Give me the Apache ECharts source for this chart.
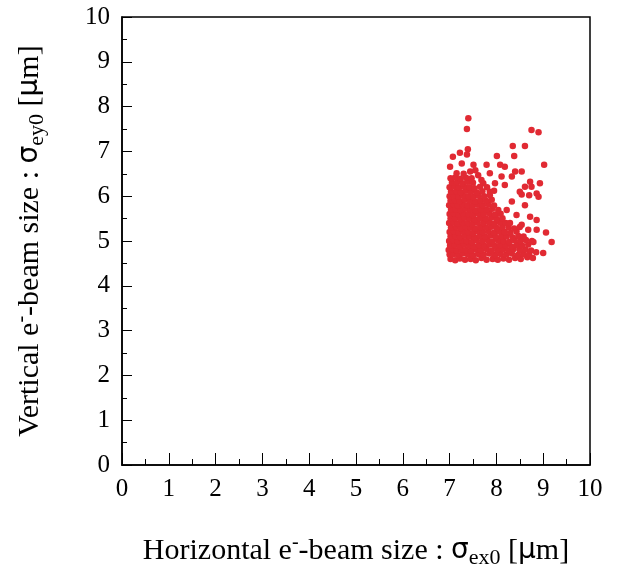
<!DOCTYPE html>
<html>
<head>
<meta charset="utf-8">
<script src="https://cdn.jsdelivr.net/npm/echarts@6/dist/echarts.min.js"></script>
<style>
  html, body { margin: 0; padding: 0; background: #fff; }
  #chart { width: 623px; height: 571px; }
</style>
</head>
<body>
<div id="chart"></div>
<script>
// axis ticks (both axes 0..10, labels every 1, minor at 0.5)
var xTicks = [0, 1, 2, 3, 4, 5, 6, 7, 8, 9, 10];
var yTicks = [0, 1, 2, 3, 4, 5, 6, 7, 8, 9, 10];

// dense part of the cloud, [sigma_ex0, sigma_ey0] in um
var denseCore = [
  [7.02,4.60],[7.12,4.57],[7.22,4.61],[7.33,4.58],[7.45,4.60],[7.56,4.57],[7.68,4.62],[7.79,4.58],[7.92,4.60],[8.03,4.58],[8.15,4.61],[8.27,4.58],[8.40,4.62],[8.52,4.60],[8.66,4.64],
  [7.00,4.70],[7.08,4.71],[7.18,4.69],[7.28,4.72],[7.39,4.70],[7.50,4.68],[7.61,4.71],[7.73,4.70],[7.85,4.72],[7.97,4.69],[8.09,4.71],[8.21,4.70],[8.33,4.72],[8.46,4.69],[8.58,4.71],[8.70,4.70],
  [6.98,4.80],[7.06,4.82],[7.15,4.79],[7.25,4.81],[7.35,4.80],[7.46,4.78],[7.57,4.81],[7.67,4.80],[7.79,4.82],[7.90,4.79],[8.02,4.80],[8.14,4.81],[8.26,4.79],[8.37,4.82],[8.50,4.80],[8.62,4.81],[8.74,4.79],
  [7.01,4.90],[7.11,4.91],[7.21,4.89],[7.31,4.92],[7.42,4.90],[7.52,4.88],[7.63,4.91],[7.74,4.90],[7.86,4.92],[7.97,4.89],[8.08,4.91],[8.20,4.90],[8.32,4.88],[8.44,4.91],[8.55,4.90],[8.68,4.92],
  [6.99,5.00],[7.07,5.02],[7.17,4.99],[7.27,5.01],[7.37,5.00],[7.48,4.98],[7.58,5.01],[7.70,5.00],[7.81,5.02],[7.92,4.99],[8.04,5.01],[8.15,5.00],[8.27,4.98],[8.39,5.01],[8.51,5.00],[8.63,5.02],[8.76,5.00],
  [7.02,5.10],[7.12,5.11],[7.22,5.09],[7.33,5.12],[7.43,5.10],[7.54,5.08],[7.65,5.11],[7.76,5.10],[7.88,5.12],[7.99,5.09],[8.11,5.11],[8.22,5.10],[8.35,5.08],[8.47,5.11],[8.58,5.10],
  [7.00,5.20],[7.09,5.22],[7.19,5.19],[7.29,5.21],[7.39,5.20],[7.50,5.18],[7.60,5.21],[7.71,5.20],[7.83,5.22],[7.95,5.19],[8.06,5.21],[8.18,5.20],[8.30,5.18],[8.43,5.21],
  [7.03,5.30],[7.14,5.31],[7.24,5.29],[7.34,5.32],[7.45,5.30],[7.55,5.28],[7.66,5.31],[7.78,5.30],[7.89,5.32],[8.01,5.29],[8.13,5.31],[8.26,5.30],[8.38,5.28],[8.50,5.31],
  [6.99,5.40],[7.08,5.42],[7.18,5.39],[7.28,5.41],[7.39,5.40],[7.49,5.38],[7.60,5.41],[7.72,5.40],[7.84,5.42],[7.96,5.39],[8.08,5.41],[8.20,5.40],
  [7.02,5.50],[7.12,5.51],[7.23,5.49],[7.33,5.52],[7.43,5.50],[7.54,5.48],[7.65,5.51],[7.77,5.50],[7.89,5.52],[8.01,5.49],[8.13,5.51],
  [7.00,5.60],[7.09,5.62],[7.19,5.59],[7.29,5.61],[7.40,5.60],[7.50,5.58],[7.61,5.61],[7.73,5.60],[7.85,5.62],[7.97,5.59],[8.09,5.61],
  [7.03,5.70],[7.13,5.71],[7.23,5.69],[7.34,5.72],[7.45,5.70],[7.56,5.68],[7.67,5.71],[7.79,5.70],[7.91,5.72],[8.04,5.69],
  [6.99,5.80],[7.08,5.82],[7.18,5.79],[7.28,5.81],[7.38,5.80],[7.49,5.78],[7.60,5.81],[7.71,5.80],[7.83,5.82],[7.95,5.79],
  [7.02,5.90],[7.12,5.91],[7.22,5.89],[7.33,5.92],[7.44,5.90],[7.55,5.88],[7.66,5.91],[7.78,5.90],[7.90,5.92],
  [7.00,6.00],[7.09,6.02],[7.19,5.99],[7.29,6.01],[7.40,6.00],[7.51,5.98],[7.62,6.01],[7.74,6.00],[7.86,6.02],
  [7.03,6.10],[7.14,6.11],[7.24,6.09],[7.35,6.12],[7.46,6.10],[7.58,6.08],[7.70,6.11],
  [7.00,6.20],[7.10,6.22],[7.20,6.19],[7.31,6.21],[7.42,6.20],[7.53,6.18],[7.65,6.21],
  [7.05,6.30],[7.16,6.31],[7.27,6.29],[7.38,6.32],[7.50,6.30],
  [7.02,6.40],[7.12,6.42],[7.23,6.39],[7.35,6.41],[7.47,6.40]
];

// scattered points around the edges of the cloud
var outerPoints = [
  [7.40,7.74],[7.37,7.50],[8.75,7.48],[8.90,7.43],[7.39,7.05],[8.35,7.12],[8.61,7.12],
  [7.22,6.97],[7.37,6.93],[8.01,6.90],[8.38,6.90],[7.07,6.88],[9.02,6.70],[7.01,6.66],
  [7.26,6.73],[7.51,6.70],[7.79,6.70],[8.08,6.70],[8.18,6.66],[8.40,6.55],[8.54,6.55],
  [7.15,6.51],[7.44,6.55],[7.61,6.47],[7.86,6.51],[8.11,6.44],[8.33,6.44],[7.72,6.29],
  [7.97,6.29],[8.18,6.25],[8.72,6.32],[8.93,6.29],[8.61,6.21],[8.75,6.21],[7.86,6.10],
  [8.50,6.10],[8.86,6.06],[8.54,6.04],[8.70,6.02],[8.90,5.99],[8.61,5.80],[8.33,5.88],
  [8.22,5.69],[8.43,5.58],[8.72,5.54],[8.86,5.47],[8.29,5.40],[8.54,5.36],[8.68,5.25],
  [8.86,5.25],[9.06,5.19],[9.18,4.98],[9.00,4.73],[8.79,4.98],[8.85,4.75],[8.78,4.62],
  [7.30,6.50],[7.55,6.58],[7.68,6.36],[7.80,6.20],[7.95,6.12]
];

var serif = '"Liberation Serif", "Times New Roman", serif';
var nameRich = {
  t: { fontFamily: serif, fontSize: 30, color: '#000', lineHeight: 36 },
  sym: { fontFamily: '"DejaVu Sans", sans-serif', fontSize: 28, color: '#000', lineHeight: 36 },
  sup: { fontFamily: serif, fontSize: 20, color: '#000', lineHeight: 20, verticalAlign: 'top' },
  sub: { fontFamily: serif, fontSize: 22, color: '#000', lineHeight: 20, verticalAlign: 'bottom' }
};

var chart = echarts.init(document.getElementById('chart'));
chart.setOption({
  animation: false,
  backgroundColor: '#fff',
  grid: {
    left: 122, right: 33, top: 17, bottom: 106,
    outerBoundsMode: 'none',
    show: true, borderColor: '#000', borderWidth: 1.5, backgroundColor: 'transparent'
  },
  xAxis: {
    type: 'value',
    min: xTicks[0], max: xTicks[xTicks.length - 1], interval: 1,
    name: '{t|Horizontal e}{sup|-}{t|-beam size : }{sym|σ}{sub|ex0}{t| [}{sym|μ}{t|m]}',
    nameLocation: 'middle',
    nameGap: 68,
    nameTextStyle: { rich: nameRich },
    axisLine: { lineStyle: { color: '#000', width: 1.5 } },
    axisTick: { inside: true, length: 12, lineStyle: { color: '#000', width: 1 } },
    minorTick: { show: true, splitNumber: 2, length: 6, lineStyle: { color: '#000', width: 1 } },
    axisLabel: { fontFamily: serif, fontSize: 25, color: '#000', margin: 12 },
    splitLine: { show: false }
  },
  yAxis: {
    type: 'value',
    min: yTicks[0], max: yTicks[yTicks.length - 1], interval: 1,
    name: '{t|Vertical e}{sup|-}{t|-beam size : }{sym|σ}{sub|ey0}{t| [}{sym|μ}{t|m]}',
    nameLocation: 'middle',
    nameGap: 74,
    nameRotate: 90,
    nameTextStyle: { rich: nameRich },
    axisLine: { lineStyle: { color: '#000', width: 1.5 } },
    axisTick: { inside: true, length: 10, lineStyle: { color: '#000', width: 1 } },
    minorTick: { show: true, splitNumber: 2, length: 5, lineStyle: { color: '#000', width: 1 } },
    axisLabel: { fontFamily: serif, fontSize: 25, color: '#000', margin: 12 },
    splitLine: { show: false }
  },
  series: [
    {
      type: 'scatter',
      data: denseCore.concat(outerPoints),
      symbol: 'circle',
      symbolSize: 6.5,
      itemStyle: { color: '#e12a33', opacity: 1 }
    }
  ]
});
</script>
</body>
</html>
